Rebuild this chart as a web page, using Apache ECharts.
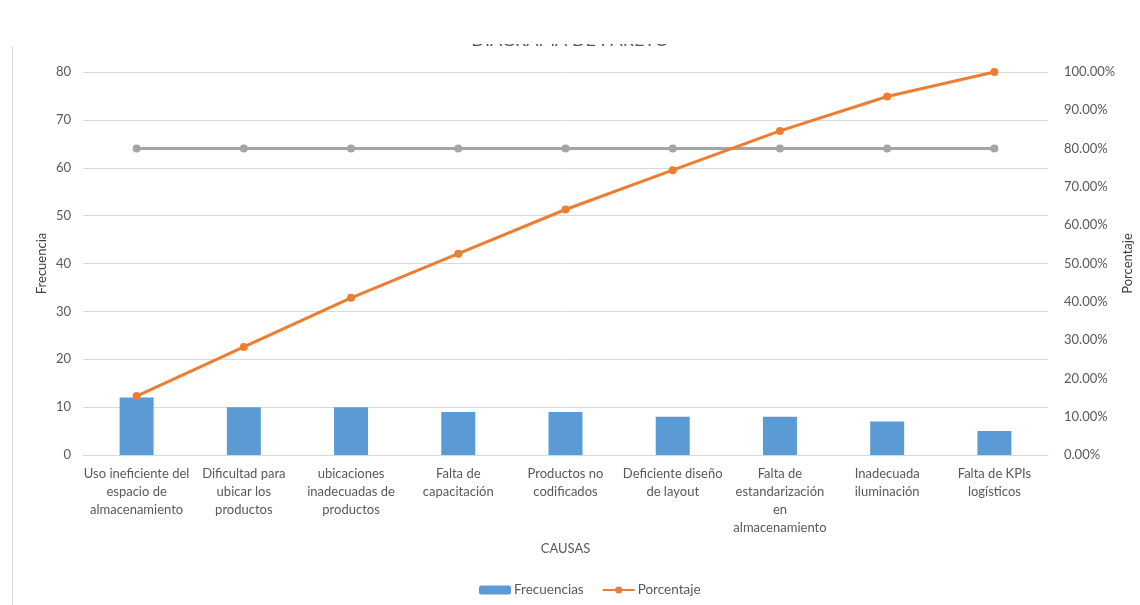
<!DOCTYPE html>
<html>
<head>
<meta charset="utf-8">
<script src="https://cdn.jsdelivr.net/npm/echarts@6/dist/echarts.min.js"></script>
<style>
  html, body { margin: 0; padding: 0; background: #fff; }
  #main { width: 1140px; height: 605px; }
</style>
</head>
<body>
<div id="main"></div>
<script>
// causas
var causas = [
  'Uso ineficiente del\nespacio de\nalmacenamiento',
  'Dificultad para\nubicar los\nproductos',
  'ubicaciones\ninadecuadas de\nproductos',
  'Falta de\ncapacitación',
  'Productos no\ncodificados',
  'Deficiente diseño\nde layout',
  'Falta de\nestandarización\nen\nalmacenamiento',
  'Inadecuada\niluminación',
  'Falta de KPIs\nlogísticos'
];
// frecuencias
var frecuencias = [12, 10, 10, 9, 9, 8, 8, 7, 5];
// porcentaje acumulado
var porcentaje = [0.1538, 0.2821, 0.4103, 0.5256, 0.6410, 0.7436, 0.8462, 0.9359, 1.0];
// linea 80%
var linea80 = [0.8, 0.8, 0.8, 0.8, 0.8, 0.8, 0.8, 0.8, 0.8];

var fuente = 'Lato';
var gris = '#595959';

var chart = echarts.init(document.getElementById('main'));
var option = {
  animation: false,
  textStyle: { fontFamily: fuente },
  title: {
    text: 'DIAGRAMA DE PARETO',
    left: 'center',
    top: 26,
    textStyle: { fontSize: 18, fontWeight: 'normal', color: gris, fontFamily: fuente }
  },
  // tapa la parte de arriba del titulo (recortado en la imagen)
  graphic: [
    { type: 'rect', left: 0, top: 0, shape: { width: 1140, height: 44 }, style: { fill: '#fff' }, z: 100 },
    { type: 'line', shape: { x1: 12.5, y1: 46, x2: 12.5, y2: 605 }, style: { stroke: '#d9d9d9', lineWidth: 1 }, z: 100 }
  ],
  legend: {
    data: ['Frecuencias', { name: 'Porcentaje', itemStyle: { borderWidth: 0 } }],
    bottom: 3,
    left: 474,
    itemWidth: 32,
    itemHeight: 9,
    itemGap: 18,
    textStyle: { fontSize: 13.5, color: gris, fontFamily: fuente, padding: [0, 0, 0, -2] }
  },
  grid: { left: 83, right: 92, top: 72, bottom: 150, outerBoundsMode: 'none' },
  xAxis: {
    type: 'category',
    data: causas,
    name: 'CAUSAS',
    nameLocation: 'middle',
    nameGap: 87,
    nameMoveOverlap: false,
    nameTextStyle: { fontSize: 13, color: gris },
    axisTick: { show: false },
    axisLine: { lineStyle: { color: '#d9d9d9' } },
    axisLabel: { interval: 0, fontSize: 13, color: gris, lineHeight: 18, margin: 10 }
  },
  yAxis: [{
    type: 'value',
    min: 0, max: 80, interval: 10,
    name: 'Frecuencia',
    nameLocation: 'middle',
    nameGap: 35,
    nameMoveOverlap: false,
    nameTextStyle: { fontSize: 13, color: '#404040' },
    axisLabel: { fontSize: 13, color: gris, margin: 12 },
    splitLine: { lineStyle: { color: '#d9d9d9' } },
    axisLine: { show: false },
    axisTick: { show: false }
  }, {
    type: 'value',
    min: 0, max: 1, interval: 0.1,
    name: 'Porcentaje',
    nameLocation: 'middle',
    nameGap: 73,
    nameMoveOverlap: false,
    nameTextStyle: { fontSize: 13, color: '#404040' },
    axisLabel: {
      fontSize: 13, color: gris, margin: 16,
      formatter: function (v) { return (v * 100).toFixed(2) + '%'; }
    },
    splitLine: { show: false },
    axisLine: { show: false },
    axisTick: { show: false }
  }],
  series: [{
    name: 'Frecuencias',
    type: 'bar',
    data: frecuencias,
    barWidth: 34,
    itemStyle: { color: '#5B9BD5' },
    z: 2
  }, {
    name: '80-20',
    type: 'line',
    yAxisIndex: 1,
    data: linea80,
    symbol: 'circle',
    symbolSize: 8,
    lineStyle: { color: '#A5A5A5', width: 3 },
    itemStyle: { color: '#A5A5A5' },
    z: 3
  }, {
    name: 'Porcentaje',
    type: 'line',
    yAxisIndex: 1,
    data: porcentaje,
    symbol: 'circle',
    symbolSize: 8,
    lineStyle: { color: '#ED7D31', width: 3 },
    itemStyle: { color: '#ED7D31' },
    z: 4
  }]
};
chart.setOption(option);
</script>
</body>
</html>
